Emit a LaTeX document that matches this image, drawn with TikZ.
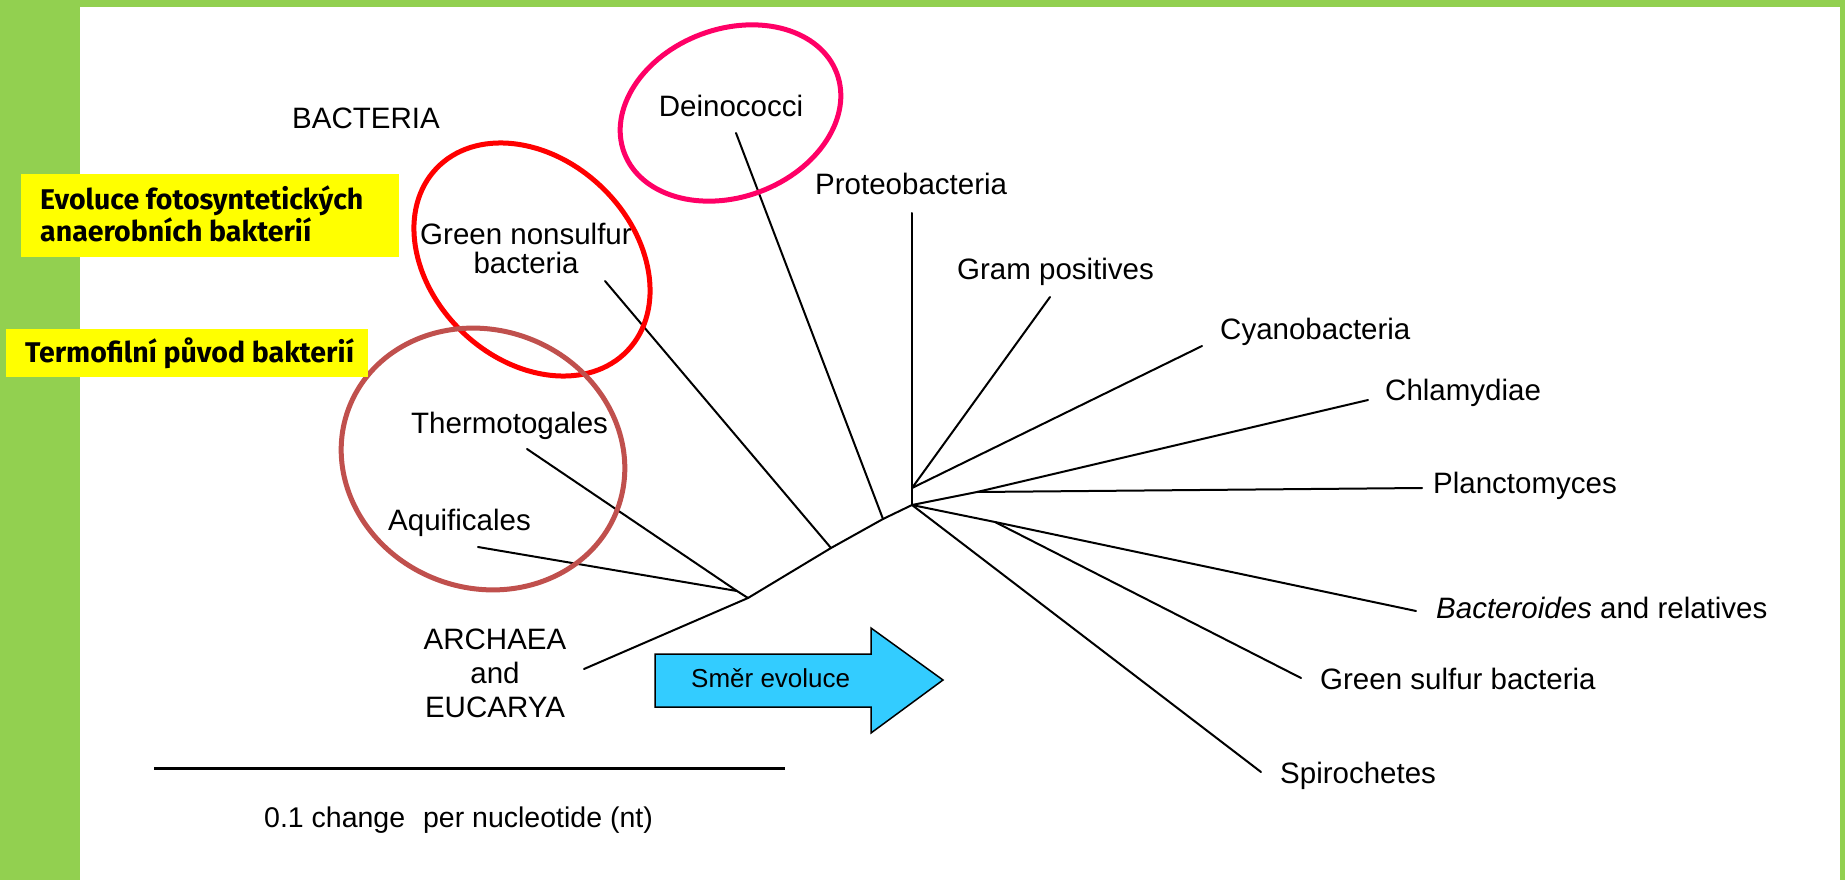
\documentclass[tikz,border=0pt]{standalone}
\usepackage{fontspec}
\setmainfont{Liberation Sans}
\newfontfamily\notefont{Fira Sans}
\definecolor{bandgreen}{HTML}{92D050}
\definecolor{noteyellow}{HTML}{FFFF00}
\definecolor{redring}{HTML}{FF0000}
\definecolor{pinkring}{HTML}{FF0066}
\definecolor{brownring}{HTML}{C0504D}
\definecolor{arrowblue}{HTML}{33CCFF}
\begin{document}
\begin{tikzpicture}[x=1pt,y=1pt,
  branch/.style={line width=2pt, black, line cap=round, line join=round},
  lbl/.style={inner sep=0pt, font=\fontsize{29.5}{29}\selectfont, text=black},
  ring/.style={line width=5pt},
  ybox/.style={fill=noteyellow, draw=none, inner sep=0pt},
  note/.style={inner sep=0pt, font=\notefont\bfseries\fontsize{28.5}{32}\selectfont, align=left}
]
\useasboundingbox (0,0) rectangle (1845,-880);
\fill[white] (0,0) rectangle (1845,-880);
\fill[bandgreen] (0,0) rectangle (80,-880);
\fill[bandgreen] (0,0) rectangle (1845,-7);
\fill[bandgreen] (1840,0) rectangle (1845,-880);

% junctions
\coordinate (hub) at (912,-505);
\coordinate (jE) at (748,-598);
\coordinate (jTA) at (737,-591);
\coordinate (jGN) at (831,-548);
\coordinate (jD) at (883,-519);
\coordinate (jGC) at (912,-488);
\coordinate (jCP) at (977,-492);
\coordinate (jBG) at (995,-522);
% branch ends
\coordinate (eArch) at (584,-669);
\coordinate (eAqu) at (478,-547);
\coordinate (eTher) at (527,-449);
\coordinate (eGNS) at (605,-281);
\coordinate (eDein) at (736,-133);
\coordinate (eProt) at (912,-213);
\coordinate (eGram) at (1050,-297);
\coordinate (eCyan) at (1202,-346);
\coordinate (eChla) at (1368,-400);
\coordinate (ePlan) at (1422,-488);
\coordinate (eBact) at (1416,-611);
\coordinate (eGSB) at (1301,-678);
\coordinate (eSpir) at (1261,-772);

\draw[branch] (eArch) -- (jE) -- (jGN) -- (jD) -- (hub);
\draw[branch] (eAqu) -- (jTA) -- (jE);
\draw[branch] (eTher) -- (jTA);
\draw[branch] (eGNS) -- (jGN);
\draw[branch] (eDein) -- (jD);
\draw[branch] (eProt) -- (jGC) -- (hub);
\draw[branch] (eGram) -- (jGC);
\draw[branch] (eCyan) -- (jGC);
\draw[branch] (hub) -- (jCP) -- (eChla);
\draw[branch] (jCP) -- (ePlan);
\draw[branch] (hub) -- (jBG) -- (eBact);
\draw[branch] (jBG) -- (eGSB);
\draw[branch] (hub) -- (eSpir);

% labels
\node[lbl, anchor=base west] (bacteria) at (292,-129) {BACTERIA};
\node[lbl, anchor=base] (dein) at (731,-117) {Deinococci};
\node[lbl, anchor=base west] (prot) at (815,-194) {Proteobacteria};
\node[lbl, align=center] (gns) at (526,-248) {Green nonsulfur\\bacteria};
\node[lbl, anchor=base west] (gram) at (957,-279) {Gram positives};
\node[lbl, anchor=base west] (cyan) at (1220,-339) {Cyanobacteria};
\node[lbl, anchor=base west] (chla) at (1385,-400) {Chlamydiae};
\node[lbl, anchor=base west] (plan) at (1433,-493) {Planctomyces};
\node[lbl, anchor=base west] (bact) at (1436,-618) {\textit{Bacteroides} and relatives};
\node[lbl, anchor=base west] (gsb) at (1320,-689) {Green sulfur bacteria};
\node[lbl, anchor=base west] (spir) at (1280,-783) {Spirochetes};
\node[lbl, anchor=base west] (ther) at (411,-433) {Thermotogales};
\node[lbl, anchor=base west] (aqu) at (388,-530) {Aquificales};
\node[lbl, align=center, font=\fontsize{29.5}{34}\selectfont] (arch) at (495,-673) {ARCHAEA\\and\\EUCARYA};

% scale bar
\coordinate (sbL) at (154,-768);
\coordinate (sbR) at (785,-768);
\draw[line width=3pt, black] (sbL) -- (sbR);
\node[lbl, anchor=base west, font=\fontsize{28.5}{30}\selectfont] (scale) at (264,-827) {0.1 change\hspace{0.35em} per nucleotide (nt)};

% rings
\draw[ring, draw=pinkring] (730.5,-113) circle [x radius=113.5, y radius=84, rotate=20.5];
\draw[ring, draw=redring] (532,-259.5) circle [x radius=132, y radius=100.5, rotate=-43.6];
\draw[ring, draw=brownring] (483,-459) circle [x radius=143.5, y radius=129, rotate=-20.6];

% direction arrow
\draw[fill=arrowblue, line width=1.5pt, line join=miter] (655,-654) -- (871,-654) -- (871,-628) -- (943,-680) -- (871,-733) -- (871,-707) -- (655,-707) -- cycle;
\node[inner sep=0pt, anchor=base west, font=\fontsize{26}{30}\selectfont] (dir) at (691,-687) {Směr evoluce};

% yellow notes
\node[ybox, minimum width=378, minimum height=83, anchor=north west] (box1) at (21,-174) {};
\node[note, anchor=north west] (note1) at (40,-185.5) {Evoluce fotosyntetických\\anaerobních bakterií};
\node[ybox, minimum width=362, minimum height=48, anchor=north west] (box2) at (6,-329) {};
\node[note, anchor=base west] (note2) at (25,-362) {Termofilní původ bakterií};
\end{tikzpicture}
\end{document}
